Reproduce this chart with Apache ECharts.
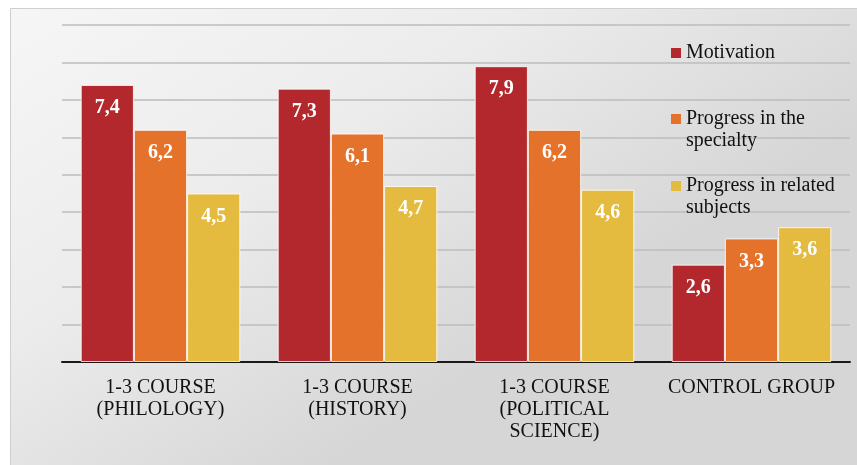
<!DOCTYPE html>
<html>
<head>
<meta charset="utf-8">
<script src="https://cdn.jsdelivr.net/npm/echarts@6/dist/echarts.min.js"></script>
<style>
html,body{margin:0;padding:0;background:#fff;}
#chart{width:857px;height:465px;}
</style>
</head>
<body>
<div id="chart"></div>
<script>
var categories = ['1-3 COURSE\n(PHILOLOGY)', '1-3 COURSE\n(HISTORY)', '1-3 COURSE\n(POLITICAL\nSCIENCE)', 'CONTROL GROUP'];
var seriesNames = ['Motivation', 'Progress in the specialty', 'Progress in related subjects'];
var legendLabels = ['Motivation', 'Progress in the\nspecialty', 'Progress in related\nsubjects'];
var motivation = [7.4, 7.3, 7.9, 2.6];
var progressSpecialty = [6.2, 6.1, 6.2, 3.3];
var progressRelated = [4.5, 4.7, 4.6, 3.6];
var colors = ['#b3282d', '#e5722b', '#e4bb3f'];

var serif = 'Liberation Serif';
var chart = echarts.init(document.getElementById('chart'));

function mkSeries(name, data, color) {
  return {
    type: 'bar',
    name: name,
    data: data,
    barGap: '0%',
    barCategoryGap: '19%',
    itemStyle: {color: color, borderColor: 'rgba(255,255,255,0.8)', borderWidth: 1},
    label: {
      show: true, position: 'insideTop', distance: 13,
      color: '#fff', fontWeight: 'bold', fontSize: 20, fontFamily: serif,
      formatter: function (p) { return String(p.value).replace('.', ','); }
    }
  };
}

var legendIcon2 = 'path://M0,0L10,0Z M0,6L10,6L10,16L0,16Z M0,44L10,44Z';
var legendText = {fontSize: 20, fontFamily: serif, color: '#111', lineHeight: 22};

function mkLegend(i, top, twoLine) {
  return {
    orient: 'vertical', left: 671, top: top, padding: 0,
    data: [seriesNames[i]],
    itemWidth: 10, itemHeight: twoLine ? 44 : 10,
    icon: twoLine ? legendIcon2 : 'rect',
    itemStyle: {borderWidth: 0},
    formatter: function () { return legendLabels[i]; },
    textStyle: legendText,
    selectedMode: false
  };
}

chart.setOption({
  animation: false,
  backgroundColor: '#fff',
  graphic: [{
    type: 'rect', z: -10, silent: true,
    shape: {x: 10.5, y: 8.5, width: 860, height: 470},
    style: {
      fill: {
        type: 'linear', x: 0, y: 0, x2: 0.35, y2: 1,
        colorStops: [
          {offset: 0, color: '#f6f6f6'},
          {offset: 0.5, color: '#ececec'},
          {offset: 1, color: '#d6d6d6'}
        ]
      },
      stroke: '#cfcfcf', lineWidth: 1
    }
  }],
  grid: {left: 62, right: 7, top: 25, bottom: 103, containLabel: false},
  legend: [mkLegend(0, 42, false), mkLegend(1, 108, true), mkLegend(2, 175, true)],
  xAxis: {
    type: 'category',
    data: categories,
    axisLine: {lineStyle: {color: '#1a1a1a', width: 2}},
    axisTick: {show: false},
    axisLabel: {
      interval: 0, margin: 15,
      fontSize: 20, fontFamily: serif, color: '#111', lineHeight: 22
    }
  },
  yAxis: {
    type: 'value', min: 0, max: 9, interval: 1,
    axisLabel: {show: false},
    axisLine: {show: false},
    axisTick: {show: false},
    splitLine: {lineStyle: {color: '#bdbdbd', width: 1.5}}
  },
  series: [
    mkSeries(seriesNames[0], motivation, colors[0]),
    mkSeries(seriesNames[1], progressSpecialty, colors[1]),
    mkSeries(seriesNames[2], progressRelated, colors[2])
  ]
});
</script>
</body>
</html>
